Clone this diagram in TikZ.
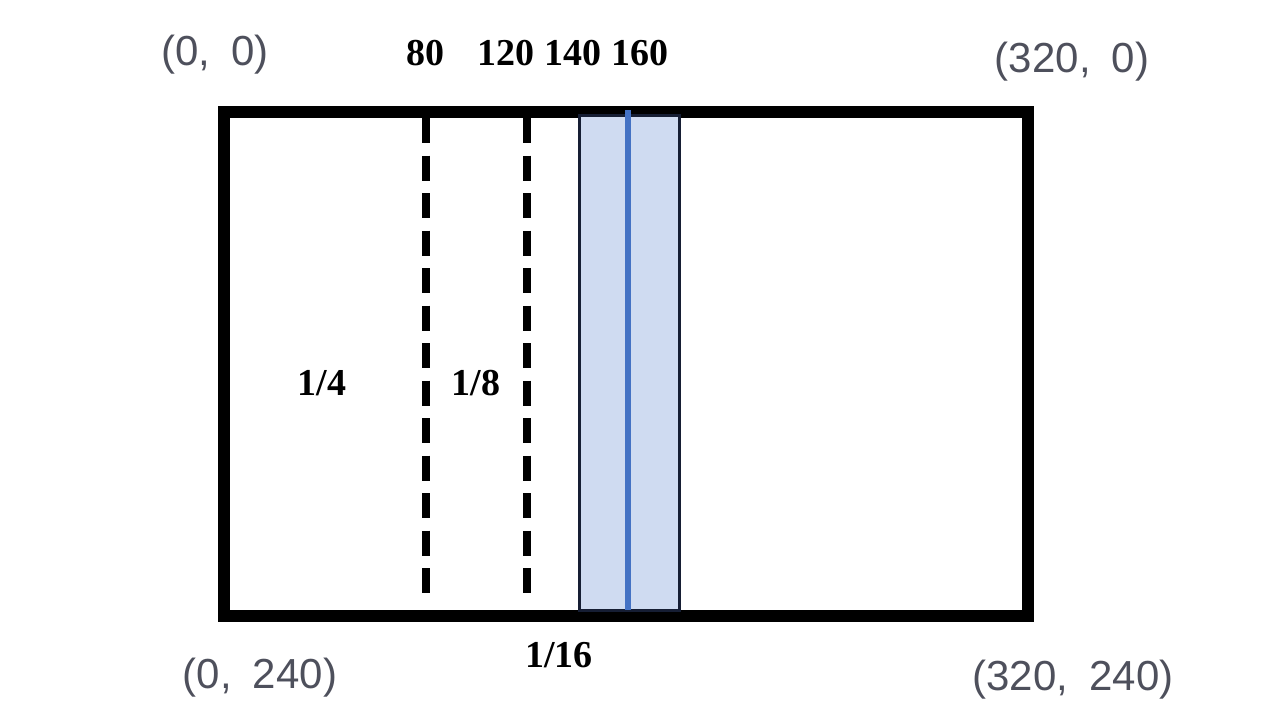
\documentclass[tikz,border=0pt]{standalone}
\usepackage{fontspec}
\setmainfont{Liberation Serif}
\newfontfamily\coordfont{Liberation Sans}
\usetikzlibrary{positioning}

\definecolor{coordgray}{RGB}{78,80,92}
\definecolor{bandfill}{RGB}{207,219,241}
\definecolor{bandline}{RGB}{68,114,196}
\definecolor{bandedge}{RGB}{22,30,52}

\begin{document}
\begin{tikzpicture}[
  x=0.5pt, y=-0.5pt,
  frame/.style={draw=black, line width=6pt},
  cutline/.style={draw=black, line width=4pt, dash pattern=on 12.5pt off 6.25pt},
  band/.style={draw=bandedge, line width=1.5pt, fill=bandfill},
  midline/.style={draw=bandline, line width=3pt},
  corner/.style={font=\coordfont\fontsize{21}{24}\selectfont, text=coordgray, inner sep=0pt},
  num/.style={font=\bfseries\fontsize{19}{22}\selectfont, inner sep=0pt},
]
\useasboundingbox (0,0) rectangle (1280,720);

% ---- image frame ------------------------------------------------
\draw[frame] (224,112) rectangle (1028,616);

% ---- split lines ------------------------------------------------
\draw[cutline] (426,118) -- (426,593);
\draw[cutline] (527,118) -- (527,593);

% ---- highlighted strip ------------------------------------------
\draw[band] (579,115) rectangle (679,610);
\draw[midline] (628,110) -- (628,610);

% ---- corner coordinates -----------------------------------------
\node[corner] (tl) at (215,55)  {(0,\hspace{0.5em}0)};
\node[corner] (tr) at (1072,62) {(320,\hspace{0.5em}0)};
\node[corner] (bl) at (260,678) {(0,\hspace{0.5em}240)};
\node[corner] (br) at (1073,680) {(320,\hspace{0.5em}240)};

% ---- column positions -------------------------------------------
\node[num] (x80)  at (425,53) {80};
\node[num] (x120) at (506,53) {120};
\node[num] (x140) at (573,53) {140};
\node[num] (x160) at (640,53) {160};

% ---- fractions --------------------------------------------------
\node[num] (q4)  at (322,383) {1/4};
\node[num] (q8)  at (476,383) {1/8};
\node[num] (q16) at (559,655) {1/16};

\end{tikzpicture}
\end{document}
